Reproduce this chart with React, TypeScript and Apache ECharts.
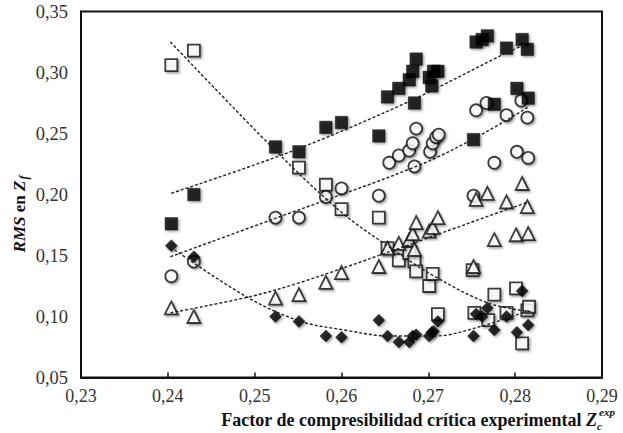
import React, { useEffect, useRef } from "react";
import * as echarts from "echarts";

// x: experimental critical compressibility factor, y: RMS in Zf
const filledSquares: number[][] = [
  [0.2404, 0.176], [0.2430, 0.200], [0.2524, 0.239], [0.2551, 0.235], [0.2582, 0.255],
  [0.2600, 0.259], [0.2643, 0.248], [0.2653, 0.280], [0.2666, 0.287], [0.2678, 0.294],
  [0.2682, 0.301], [0.2686, 0.311], [0.2684, 0.275], [0.2701, 0.296], [0.2704, 0.289],
  [0.2706, 0.301], [0.2711, 0.301], [0.2752, 0.245], [0.2755, 0.325], [0.2762, 0.327],
  [0.2768, 0.330], [0.2776, 0.274], [0.2790, 0.320], [0.2802, 0.287], [0.2808, 0.327],
  [0.2814, 0.319], [0.2815, 0.279],
];

const openSquares: number[][] = [
  [0.2404, 0.306], [0.2430, 0.318], [0.2551, 0.222], [0.2582, 0.208], [0.2600, 0.188],
  [0.2643, 0.181], [0.2653, 0.156], [0.2666, 0.146], [0.2678, 0.152], [0.2684, 0.145],
  [0.2686, 0.137], [0.2701, 0.125], [0.2705, 0.135], [0.2711, 0.102], [0.2751, 0.138],
  [0.2753, 0.103], [0.2769, 0.097], [0.2776, 0.118], [0.2790, 0.103], [0.2801, 0.123],
  [0.2808, 0.078], [0.2814, 0.105], [0.2816, 0.108],
];

const circles: number[][] = [
  [0.2404, 0.133], [0.2430, 0.145], [0.2524, 0.181], [0.2551, 0.181], [0.2582, 0.198],
  [0.2600, 0.205], [0.2643, 0.199], [0.2655, 0.226], [0.2666, 0.232], [0.2678, 0.236],
  [0.2682, 0.242], [0.2684, 0.223], [0.2686, 0.254], [0.2702, 0.235], [0.2705, 0.242],
  [0.2709, 0.247], [0.2712, 0.249], [0.2752, 0.199], [0.2755, 0.269], [0.2767, 0.275],
  [0.2776, 0.226], [0.2790, 0.265], [0.2802, 0.235], [0.2807, 0.277], [0.2814, 0.263],
  [0.2815, 0.230],
];

const triangles: number[][] = [
  [0.2404, 0.107], [0.2430, 0.100], [0.2524, 0.115], [0.2551, 0.118], [0.2582, 0.128],
  [0.2600, 0.136], [0.2643, 0.141], [0.2653, 0.156], [0.2666, 0.160], [0.2678, 0.163],
  [0.2684, 0.155], [0.2682, 0.168], [0.2686, 0.177], [0.2701, 0.170], [0.2705, 0.173],
  [0.2711, 0.181], [0.2752, 0.141], [0.2755, 0.196], [0.2768, 0.201], [0.2776, 0.163],
  [0.2790, 0.194], [0.2801, 0.167], [0.2808, 0.209], [0.2814, 0.190], [0.2815, 0.168],
];

const diamonds: number[][] = [
  [0.2404, 0.158], [0.2430, 0.149], [0.2524, 0.100], [0.2551, 0.096], [0.2582, 0.084],
  [0.2600, 0.083], [0.2643, 0.097], [0.2653, 0.084], [0.2666, 0.079], [0.2678, 0.079],
  [0.2682, 0.084], [0.2686, 0.085], [0.2701, 0.084], [0.2704, 0.087], [0.2706, 0.088],
  [0.2711, 0.096], [0.2752, 0.084], [0.2755, 0.102], [0.2762, 0.100], [0.2768, 0.107],
  [0.2776, 0.089], [0.2790, 0.100], [0.2802, 0.087], [0.2808, 0.121], [0.2815, 0.093],
];

// dashed trendlines, points
const trendFilledSquares: number[][] = [
  [0.2404, 0.201], [0.2541, 0.235], [0.2674, 0.275], [0.2784, 0.314], [0.2811, 0.323],
];
const trendOpenSquares: number[][] = [
  [0.2403, 0.325], [0.2524, 0.236], [0.2599, 0.186], [0.2655, 0.157], [0.2707, 0.133],
  [0.2769, 0.111], [0.2818, 0.104],
];
const trendCircles: number[][] = [
  [0.2403, 0.149], [0.2526, 0.181], [0.2686, 0.223], [0.2753, 0.246], [0.2816, 0.272],
];
const trendTriangles: number[][] = [
  [0.2403, 0.103], [0.2493, 0.116], [0.2553, 0.128], [0.2655, 0.153], [0.2772, 0.183],
  [0.2816, 0.194],
];
const trendDiamonds: number[][] = [
  [0.2403, 0.157], [0.2491, 0.116], [0.2553, 0.096], [0.2603, 0.089], [0.2655, 0.084],
  [0.2707, 0.084], [0.2761, 0.092], [0.2816, 0.105],
];

const xTicks = { min: 0.23, max: 0.29, interval: 0.01 };
const yTicks = { min: 0.05, max: 0.35, interval: 0.05 };

const serif = "'Liberation Serif', 'DejaVu Serif', serif";
const shadow = {
  shadowBlur: 2,
  shadowColor: "rgba(0,0,0,0.45)",
  shadowOffsetX: 1.5,
  shadowOffsetY: 1.5,
};

export default function App() {
  const ref = useRef<HTMLDivElement>(null);
  useEffect(() => {
    if (!ref.current) return;
    document.body.style.margin = "0";
    const chart = echarts.init(ref.current, undefined, { renderer: "svg" });

    const scatter = (data: number[][], symbol: string, size: number, filled: boolean, z: number) => ({
      type: "scatter",
      data,
      symbol,
      symbolSize: size,
      z,
      itemStyle: filled
        ? { color: "#000", borderColor: "#000", borderWidth: 0.5, ...shadow }
        : { color: "#fff", borderColor: "#111", borderWidth: 1.8, ...shadow },
    });
    const line = (data: number[][]) => ({
      type: "line",
      data,
      showSymbol: false,
      symbol: "none",
      smooth: 0.35,
      z: 10,
      lineStyle: { color: "#222", width: 1.4, type: [3, 2] },
    });

    chart.setOption({
      animation: false,
      backgroundColor: "#fff",
      grid: {
        left: 81,
        right: 21,
        top: 11.5,
        bottom: 55.5,
        show: true,
        borderColor: "#111",
        borderWidth: 2,
        backgroundColor: "transparent",
      },
      xAxis: {
        type: "value",
        min: xTicks.min,
        max: xTicks.max,
        interval: xTicks.interval,
        axisLine: { show: true, lineStyle: { color: "#111", width: 2 } },
        axisTick: { show: true, inside: true, length: 5, lineStyle: { color: "#111", width: 1.5 } },
        splitLine: { show: false },
        axisLabel: {
          fontFamily: serif,
          fontSize: 18,
          color: "#333",
          margin: 9,
          formatter: (v: number) => v.toFixed(2).replace(".", ","),
        },
      },
      yAxis: {
        type: "value",
        min: yTicks.min,
        max: yTicks.max,
        interval: yTicks.interval,
        axisLine: { show: true, lineStyle: { color: "#111", width: 2 } },
        axisTick: { show: false },
        splitLine: { show: false },
        axisLabel: {
          fontFamily: serif,
          fontSize: 18.5,
          color: "#333",
          margin: 13,
          formatter: (v: number) => v.toFixed(2).replace(".", ","),
        },
      },
      graphic: [
        {
          type: "text",
          x: 597,
          y: 420,
          style: {
            text: "{a|Factor de compresibilidad crítica experimental }{z|Z}",
            align: "right",
            verticalAlign: "middle",
            fill: "#111",
            rich: {
              a: { font: `bold 18px ${serif}`, fill: "#111" },
              z: { font: `italic bold 18px ${serif}`, fill: "#111" },
            },
          },
        },
        {
          type: "text",
          x: 597,
          y: 426,
          style: { text: "c", font: `italic bold 11px ${serif}`, fill: "#111", align: "left", verticalAlign: "middle" },
        },
        {
          type: "text",
          x: 599,
          y: 412,
          style: { text: "exp", font: `italic bold 11px ${serif}`, fill: "#111", align: "left", verticalAlign: "middle" },
        },
        {
          type: "text",
          x: 19,
          y: 214,
          rotation: Math.PI / 2,
          style: {
            text: "{i|RMS}{b| en }{i|Z}{s|f}",
            align: "center",
            verticalAlign: "middle",
            fill: "#111",
            rich: {
              i: { font: `italic bold 17px ${serif}`, fill: "#111", lineHeight: 22, verticalAlign: "middle" },
              b: { font: `bold 17px ${serif}`, fill: "#111", lineHeight: 22, verticalAlign: "middle" },
              s: { font: `italic bold 12px ${serif}`, fill: "#111", lineHeight: 22, verticalAlign: "bottom", padding: [0, 0, 0, 1] },
            },
          },
        },
      ],
      series: [
        scatter(openSquares, "rect", 12, false, 2),
        scatter(circles, "circle", 12, false, 3),
        scatter(triangles, "triangle", 13, false, 4),
        scatter(filledSquares, "rect", 12.5, true, 5),
        scatter(diamonds, "diamond", 12, true, 6),
        line(trendFilledSquares),
        line(trendOpenSquares),
        line(trendCircles),
        line(trendTriangles),
        line(trendDiamonds),
      ],
    });
    return () => chart.dispose();
  }, []);
  return <div ref={ref} style={{ position: "absolute", left: 0, top: 0, width: 623, height: 433 }} />;
}
